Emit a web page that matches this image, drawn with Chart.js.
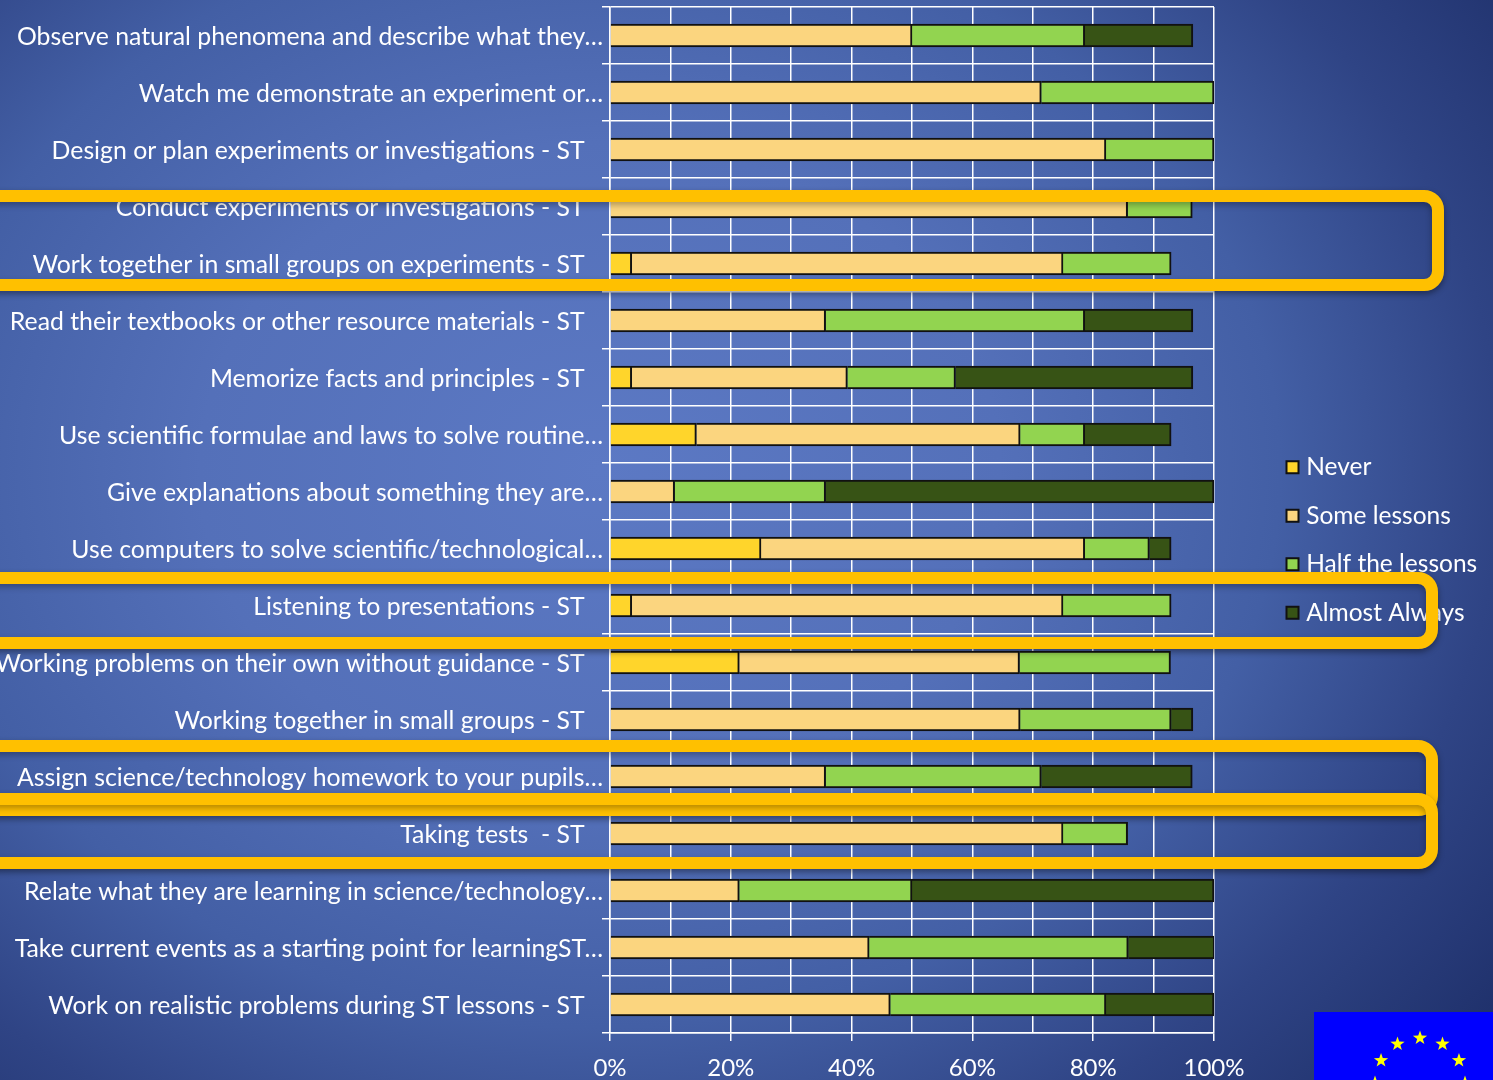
<!DOCTYPE html>
<html>
<head>
<meta charset="utf-8">
<script src="https://cdn.jsdelivr.net/npm/chart.js@4"></script>
<style>
    html, body { margin: 0; height: 100%; overflow: hidden; }
    body { width: 1493px; height: 1080px; position: relative; background: radial-gradient(ellipse 1000px 820px at 600px 470px, #5c79c4 0%, #5470b9 40%, #435fa5 68%, #2f4485 90%, #1d2e68 115%); }
    canvas { position: absolute; left: 0; top: 0; }
    .frame { position: absolute; box-sizing: border-box; left: -30px; border: 12px solid #ffc000; border-radius: 20px; box-shadow: 0 3px 6px rgba(0, 0, 0, .4), inset 0 3px 6px rgba(0, 0, 0, .3); }
    #flag { position: absolute; left: 1314px; top: 1012px; width: 179px; height: 68px; background: #0000ff; }
</style>
</head>
<body>
<canvas id="graphique" width="1493" height="1080"></canvas>
<div class="frame" style="top:190px;width:1474px;height:101px"></div>
<div class="frame" style="top:572px;width:1468px;height:77px"></div>
<div class="frame" style="top:740px;width:1468px;height:76px"></div>
<div class="frame" style="top:793px;width:1468px;height:76px"></div>
<svg id="flag" viewBox="0 0 179 68"></svg>
<script>
const categories = [
    "Observe natural phenomena and describe what they…",
    "Watch me demonstrate an experiment or…",
    "Design or plan experiments or investigations - ST",
    "Conduct experiments or investigations - ST",
    "Work together in small groups on experiments - ST",
    "Read their textbooks or other resource materials - ST",
    "Memorize facts and principles - ST",
    "Use scientific formulae and laws to solve routine…",
    "Give explanations about something they are…",
    "Use computers to solve scientific/technological…",
    "Listening to presentations - ST",
    "Working problems on their own without guidance - ST",
    "Working together in small groups - ST",
    "Assign science/technology homework to your pupils…",
    "Taking tests  - ST",
    "Relate what they are learning in science/technology…",
    "Take current events as a starting point for learningST…",
    "Work on realistic problems during ST lessons - ST",
]
const seriesNames = ["Never", "Some lessons", "Half the lessons", "Almost Always"]
const never = [0, 0, 0, 0, 3.6, 0, 3.6, 14.3, 0, 25, 3.6, 21.4, 0, 0, 0, 0, 0, 0]
const someLessons = [50, 71.4, 82.1, 85.7, 71.4, 35.7, 35.7, 53.6, 10.7, 53.6, 71.4, 46.4, 67.9, 35.7, 75, 21.4, 42.9, 46.4]
const halfTheLessons = [28.6, 28.6, 17.9, 10.7, 17.9, 42.9, 17.9, 10.7, 25, 10.7, 17.9, 25, 25, 35.7, 10.7, 28.6, 42.9, 35.7]
const almostAlways = [17.9, 0, 0, 0, 0, 17.9, 39.3, 14.3, 64.3, 3.6, 0, 0, 3.6, 25, 0, 50, 14.3, 17.9]
const colors = ["#ffd52b", "#fbd57f", "#92d450", "#375315"]

// Carré de légende, dessiné à part pour garder l'écart serré avec le texte
function swatch(color) {
    const c = document.createElement("canvas")
    c.width = 16
    c.height = 16
    const g = c.getContext("2d")
    g.fillStyle = color
    g.fillRect(1, 1, 14, 14)
    g.strokeStyle = "#111"
    g.lineWidth = 2
    g.strokeRect(2, 2, 12, 12)
    return c
}

const placeLegend = {
    id: "placeLegend",
    afterLayout(chart) {
        chart.legend.left = 1267
        chart.legend.right = 1493
        chart.legend.top = 431
        chart.legend.bottom = 1080
    },
}

const data = {
    labels: categories,
    datasets: [never, someLessons, halfTheLessons, almostAlways].map((values, i) => ({
        label: seriesNames[i],
        data: values,
        backgroundColor: colors[i],
        borderColor: "#111",
        borderWidth: 2,
        borderSkipped: "start",
        barThickness: 23,
    })),
}

const config = {
    type: "bar",
    data: data,
    plugins: [placeLegend],
    options: {
        indexAxis: "y",
        responsive: false,
        animation: false,
        layout: { padding: { top: 7, right: 279 } },
        plugins: {
            tooltip: { enabled: false },
            legend: {
                position: "chartArea",
                align: "start",
                labels: {
                    color: "#fff",
                    font: { family: "Lato", size: 24.5 },
                    padding: 24,
                    usePointStyle: true,
                    pointStyleWidth: 3,
                    boxHeight: 16,
                    generateLabels(chart) {
                        return Chart.defaults.plugins.legend.labels.generateLabels(chart).map((item, i) => ({ ...item, pointStyle: swatch(colors[i]) }))
                    },
                },
            },
        },
        scales: {
            x: {
                stacked: true,
                min: 0,
                max: 100,
                afterFit(scale) { scale.height = 47 },
                border: { color: "#fff", width: 1.5 },
                grid: {
                    color: "#fff",
                    lineWidth: 1.5,
                    tickLength: 8,
                    tickColor: ctx => (ctx.tick && ctx.tick.value % 20 === 0 ? "#fff" : "transparent"),
                },
                ticks: {
                    stepSize: 10,
                    autoSkip: false,
                    maxRotation: 0,
                    color: "#fff",
                    font: { family: "Lato", size: 24 },
                    padding: 13,
                    callback: value => (value % 20 === 0 ? value + "%" : ""),
                },
            },
            y: {
                stacked: true,
                afterFit(scale) {
                    scale.width = 610
                    scale.paddingTop = 0
                    scale.paddingBottom = 0
                },
                border: { color: "#fff", width: 1.5 },
                grid: { offset: true, color: "#fff", lineWidth: 1.5, tickLength: 8 },
                ticks: {
                    autoSkip: false,
                    color: "#fff",
                    font: { family: "Lato", size: 24.8 },
                    padding: -1,
                    labelOffset: 2,
                    callback(value) {
                        const label = this.getLabelForValue(value)
                        return label.endsWith("ST") ? label + "\u00a0\u00a0\u00a0" : label
                    },
                },
            },
        },
    },
}

new Chart(document.querySelector("#graphique"), config)

// Drapeau : cercle d'étoiles coupé par le bas de l'image
const flag = document.querySelector("#flag")
const points = []
for (let i = 0; i < 10; i++) {
    const r = i % 2 ? 3 : 7.5
    const a = i * Math.PI / 5
    points.push((r * Math.sin(a)).toFixed(2) + "," + (-r * Math.cos(a)).toFixed(2))
}
for (let i = 0; i < 12; i++) {
    const a = i * Math.PI / 6
    const star = document.createElementNS("http://www.w3.org/2000/svg", "polygon")
    star.setAttribute("points", points.join(" "))
    star.setAttribute("fill", "#ffff00")
    star.setAttribute("transform", `translate(${106 + 45 * Math.sin(a)} ${71 - 45 * Math.cos(a)})`)
    flag.appendChild(star)
}
</script>
</body>
</html>
